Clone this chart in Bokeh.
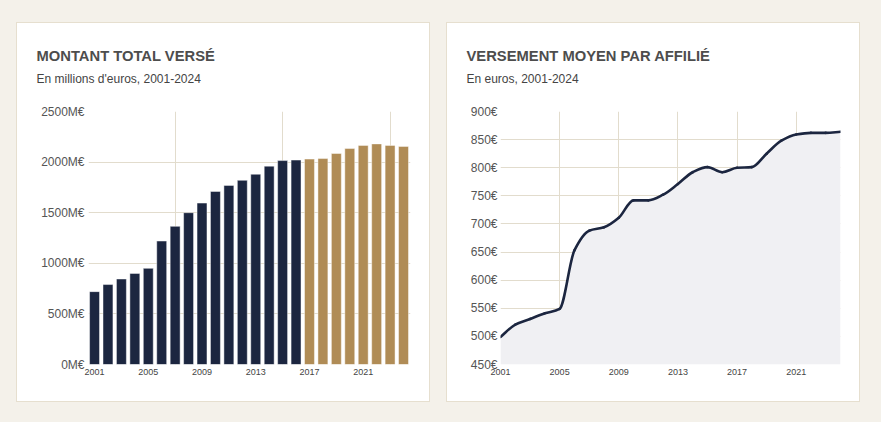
import numpy as np
from bokeh.plotting import figure
from bokeh.models import Range1d, FixedTicker, Title, GlobalInlineStyleSheet, ColumnDataSource
from bokeh.layouts import row
from bokeh.embed import file_html
from bokeh.resources import INLINE

# ---------------- data ----------------
years = list(range(2001, 2025))
total_paid = [720, 790, 845, 900, 950, 1220, 1365, 1500, 1595, 1710, 1770, 1820,
              1880, 1960, 2015, 2020, 2030, 2035, 2085, 2135, 2165, 2180, 2165, 2155]
avg_paid = [499, 521, 531, 541, 549, 653, 688, 694, 711, 742, 742, 752,
            771, 792, 801, 792, 800, 801, 825, 848, 859, 862, 862, 864]
highlight_from = 2017

x_ticks = [2001, 2005, 2009, 2013, 2017, 2021]
x_tick_labels = ["2001", "2005", "2009", "2013", "2017", "2021"]
left_grid_years = [2007, 2015, 2023]
y1_ticks = [0, 500, 1000, 1500, 2000, 2500]
y1_tick_labels = ["0M€", "500M€", "1000M€", "1500M€", "2000M€", "2500M€"]
y2_ticks = [450, 500, 550, 600, 650, 700, 750, 800, 850, 900]
y2_tick_labels = ["450€", "500€", "550€", "600€", "650€", "700€", "750€", "800€", "850€", "900€"]

title1 = "MONTANT TOTAL VERSÉ"
subtitle1 = "En millions d'euros, 2001-2024"
title2 = "VERSEMENT MOYEN PAR AFFILIÉ"
subtitle2 = "En euros, 2001-2024"

# ---------------- style ----------------
FONT = "Liberation Sans"
NAVY = "#1c2640"
GOLD = "#b08c56"
GRID = "#e2dccd"
BG = "#f4f1ea"
PANEL_BORDER = "#e6dfcf"
panel_style = {"border": f"1px solid {PANEL_BORDER}", "background-color": "white"}


def base_fig(xr, yr, left, right):
    p = figure(width=414, height=380, x_range=xr, y_range=yr,
               output_backend="svg", toolbar_location=None,
               min_border_left=left, min_border_right=right,
               min_border_top=88, min_border_bottom=39)
    p.background_fill_color = "white"
    p.border_fill_color = "white"
    p.outline_line_color = None
    p.styles = panel_style
    for ax in (p.xaxis[0], p.yaxis[0]):
        ax.axis_line_color = None
        ax.major_tick_line_color = None
        ax.minor_tick_line_color = None
        ax.major_tick_out = 0
        ax.major_tick_in = 0
        ax.major_label_text_font = FONT
    p.yaxis[0].major_label_text_font_size = "12px"
    p.yaxis[0].major_label_text_color = "#555555"
    p.xaxis[0].major_label_text_font_size = "9px"
    p.xaxis[0].major_label_text_color = "#444444"
    p.xaxis[0].major_label_standoff = 4
    p.xaxis[0].ticker = FixedTicker(ticks=x_ticks)
    p.xaxis[0].major_label_overrides = {t: s for t, s in zip(x_ticks, x_tick_labels)}
    p.xgrid.grid_line_color = GRID
    p.ygrid.grid_line_color = GRID
    p.xgrid.grid_line_width = 1
    p.ygrid.grid_line_width = 1
    return p


def add_titles(p, title, subtitle, dx):
    # panels stack outward from the frame: spacer, subtitle, title
    p.add_layout(Title(text=" ", align="left", standoff=23,
                       text_font=FONT, text_font_size="1px"), "above")
    p.add_layout(Title(text=subtitle, align="left", offset=dx, standoff=0,
                       text_font=FONT, text_font_size="12px", text_font_style="normal",
                       text_color="#444444"), "above")
    p.add_layout(Title(text=title, align="left", offset=dx, standoff=12,
                       text_font=FONT, text_font_size="14.75px", text_font_style="bold",
                       text_color="#4d4d4d"), "above")


# ---------------- left chart ----------------
p1 = base_fig(Range1d(2000.55, 2024.52), Range1d(0, 2500), 71, 21)
p1.margin = (22, 0, 0, 16)
p1.yaxis[0].ticker = FixedTicker(ticks=y1_ticks)
p1.yaxis[0].major_label_overrides = {t: s for t, s in zip(y1_ticks, y1_tick_labels)}
p1.yaxis[0].major_label_standoff = 4
p1.xgrid.ticker = FixedTicker(ticks=left_grid_years)

colors = [NAVY if y < highlight_from else GOLD for y in years]
src1 = ColumnDataSource(dict(x=years, top=total_paid, color=colors))
p1.vbar(x="x", top="top", bottom=0, width=0.74, source=src1,
        fill_color="color", line_color="white", line_alpha=0.45, line_width=1)
add_titles(p1, title1, subtitle1, -52)

# ---------------- right chart ----------------
p2 = base_fig(Range1d(2001, 2024), Range1d(450, 900), 53, 21)
p2.margin = (22, 0, 0, 16)
p2.yaxis[0].ticker = FixedTicker(ticks=y2_ticks)
p2.yaxis[0].major_label_overrides = {t: s for t, s in zip(y2_ticks, y2_tick_labels)}
p2.yaxis[0].major_label_standoff = 3
p2.xgrid.ticker = FixedTicker(ticks=x_ticks)

p2.varea(x=years, y1=[450] * len(years), y2=avg_paid, fill_color="#f0f0f3")

# smooth (monotone cubic) rendering of the line through the data points
xs = np.array(years, dtype=float)
ys = np.array(avg_paid, dtype=float)
h = np.diff(xs)
d = np.diff(ys) / h
m = np.zeros_like(ys)
m[0], m[-1] = d[0], d[-1]
for i in range(1, len(ys) - 1):
    if d[i - 1] * d[i] <= 0:
        m[i] = 0.0
    else:
        w1 = 2 * h[i] + h[i - 1]
        w2 = h[i] + 2 * h[i - 1]
        m[i] = (w1 + w2) / (w1 / d[i - 1] + w2 / d[i])
p2.bezier(x0=xs[:-1], y0=ys[:-1], x1=xs[1:], y1=ys[1:],
          cx0=xs[:-1] + h / 3, cy0=ys[:-1] + m[:-1] * h / 3,
          cx1=xs[1:] - h / 3, cy1=ys[1:] - m[1:] * h / 3,
          line_color=NAVY, line_width=2.6, line_cap="round")
add_titles(p2, title2, subtitle2, -34)

layout = row(p1, p2, stylesheets=[GlobalInlineStyleSheet(css=f"html, body {{ background-color: {BG}; }}")])

open("out.html", "w").write(file_html(layout, INLINE))
